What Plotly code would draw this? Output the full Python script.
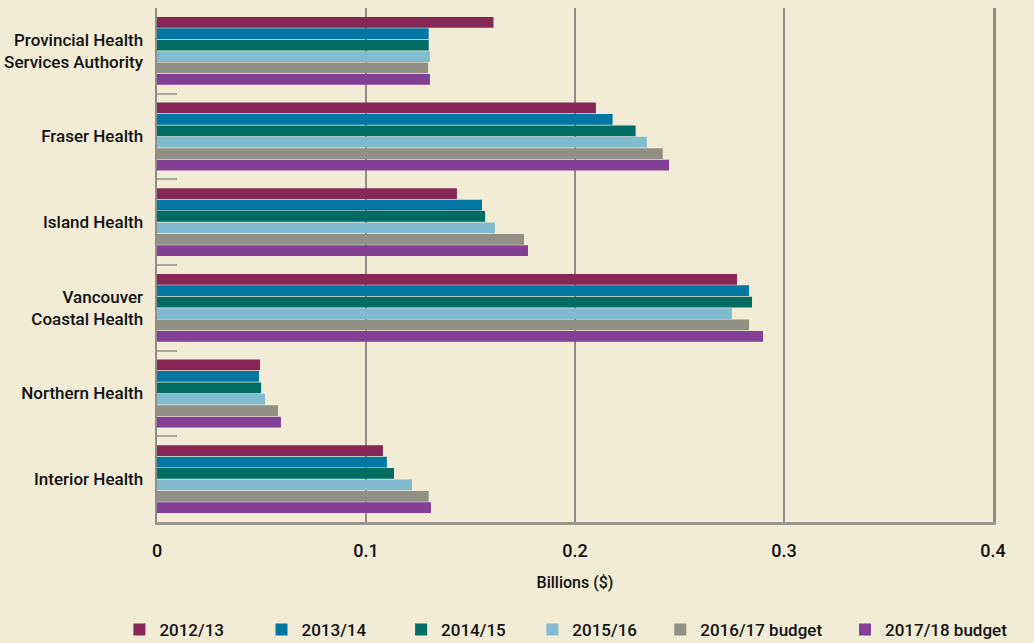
import plotly.graph_objects as go

categories = [
    "Provincial Health<br>Services Authority",
    "Fraser Health",
    "Island Health",
    "Vancouver<br>Coastal Health",
    "Northern Health",
    "Interior Health",
]
series_names = ["2012/13", "2013/14", "2014/15", "2015/16", "2016/17 budget", "2017/18 budget"]
values = {
    "2012/13":        [0.161, 0.210, 0.1435, 0.2775, 0.0493, 0.1081],
    "2013/14":        [0.130, 0.218, 0.1555, 0.2833, 0.0488, 0.1100],
    "2014/15":        [0.130, 0.229, 0.1570, 0.2847, 0.0498, 0.1134],
    "2015/16":        [0.1306, 0.2344, 0.1617, 0.2751, 0.0517, 0.1220],
    "2016/17 budget": [0.1297, 0.242, 0.1756, 0.2833, 0.0579, 0.1300],
    "2017/18 budget": [0.1306, 0.245, 0.1775, 0.2900, 0.0593, 0.1311],
}
colors = ["#862757", "#0078A3", "#006C63", "#80BBD0", "#919085", "#833F96"]
x_ticks = [0, 0.1, 0.2, 0.3, 0.4]
x_tick_text = ["0", "0.1", "0.2", "0.3", "0.4"]

# legend entry positions (paper x of each entry's left edge)
legend_x = [-0.0450, 0.1250, 0.2920, 0.4490, 0.6020, 0.8230]

FONT = "Roboto, Liberation Sans, sans-serif"
BG = "#F2ECD6"

fig = go.Figure()
legend_layout = {}
for i, (name, col) in enumerate(zip(series_names, colors)):
    lid = "legend" if i == 0 else f"legend{i + 1}"
    fig.add_trace(go.Bar(
        y=categories, x=values[name], name=name, orientation="h",
        marker=dict(color=col, line=dict(width=0)), legend=lid,
    ))
    legend_layout[lid] = dict(
        orientation="h", x=legend_x[i], xanchor="left", y=-0.21, yanchor="middle",
        font=dict(size=17, family=FONT, weight=500), itemwidth=30,
        bgcolor="rgba(0,0,0,0)",
    )

fig.update_layout(
    width=1034, height=643,
    paper_bgcolor=BG, plot_bgcolor=BG,
    barmode="group", bargap=0.2, bargroupgap=0.06,
    margin=dict(l=157, r=41, t=8, b=121, autoexpand=False),
    font=dict(family=FONT, color="#111111", size=17, weight=500),
    showlegend=True,
    **legend_layout,
)
fig.update_xaxes(
    range=[0, 0.4], tickvals=x_ticks, ticktext=x_tick_text, automargin=False,
    showgrid=True, gridcolor="#8f8d85", gridwidth=1.5,
    showline=True, linecolor="#9a988e", linewidth=3, mirror=False,
    zeroline=False, ticks="", tickfont=dict(size=18, family=FONT, weight=500),
    ticklabelstandoff=10,
    title=dict(text="Billions ($)", font=dict(size=16, family=FONT, weight=500), standoff=18),
)
fig.update_yaxes(
    range=[5.5, -0.5], automargin=False,
    showline=True, linecolor="#8f8d85", linewidth=2.5, mirror=True,
    ticks="inside", tickson="boundaries", ticklen=20, tickcolor="#aaa79b", tickwidth=2,
    showgrid=False, tickfont=dict(size=17, family=FONT, weight=500), ticklabelstandoff=8,
)

fig.write_html("out.html", config={"displayModeBar": False, "staticPlot": True},
               post_script="document.body.style.margin='0px';")
